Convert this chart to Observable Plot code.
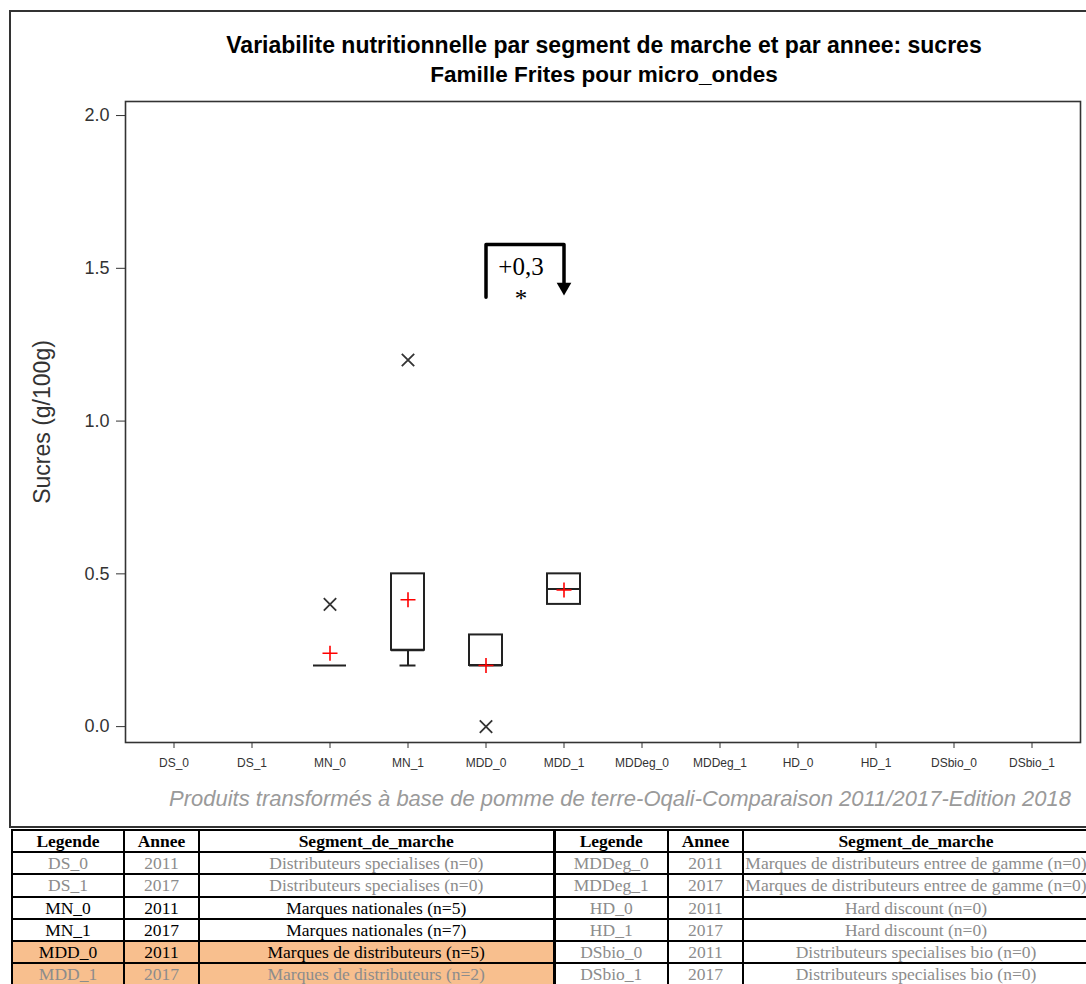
<!DOCTYPE html>
<html>
<head>
<meta charset="utf-8">
<script src="https://cdn.jsdelivr.net/npm/d3@7"></script>
<script src="https://cdn.jsdelivr.net/npm/@observablehq/plot@0.6"></script>
<style>
  html, body { margin: 0; padding: 0; background: #fff; }
  body { width: 1086px; height: 984px; overflow: hidden; position: relative; font-family: "Liberation Sans", Arial, sans-serif; }
  #frame { position: absolute; left: 9px; top: 10px; width: 1100px; height: 814px; border: 2px solid #333; box-sizing: content-box; }
  #chart { position: absolute; left: 0; top: 0; }
  .ttl { position: absolute; left: 104px; width: 1000px; text-align: center; font-weight: bold; line-height: 22.5px; color: #000; white-space: nowrap; }
  #caption { position: absolute; left: 120px; width: 1000px; text-align: center; font-style: italic; font-size: 22px; line-height: 22px; color: #9a9a9a; white-space: nowrap; }
  #tbl { position: absolute; left: 11px; top: 829px; width: 1077px; border-collapse: collapse; table-layout: fixed; font-family: "Liberation Serif", "Times New Roman", serif; font-size: 17.5px; }
  #tbl td, #tbl th { border: 2.5px solid #000; padding: 0; height: 20.2px; line-height: 20px; text-align: center; white-space: nowrap; overflow: hidden; }
  #tbl th { font-weight: bold; color: #000; }
  #tbl td.sep, #tbl th.sep { border-left-width: 3.5px; }
</style>
</head>
<body>
<div id="frame"></div>
<div id="chart"></div>
<div class="ttl" id="t1" style="top:34px;font-size:23px"></div>
<div class="ttl" id="t2" style="top:64px;font-size:22.5px"></div>
<div id="caption" style="top:788px"></div>
<table id="tbl"></table>
<script>
// ---------- data ----------
const titleLine1 = "Variabilite nutritionnelle par segment de marche et par annee: sucres";
const titleLine2 = "Famille Frites pour micro_ondes";
const captionText = "Produits transformés à base de pomme de terre-Oqali-Comparaison 2011/2017-Edition 2018";
const yLabel = "Sucres (g/100g)";

const segments = ["DS_0","DS_1","MN_0","MN_1","MDD_0","MDD_1","MDDeg_0","MDDeg_1","HD_0","HD_1","DSbio_0","DSbio_1"];
const yTicks = [0, 0.5, 1.0, 1.5, 2.0];

// box statistics (only segments with data)
const boxSeg    = ["MN_0","MN_1","MDD_0","MDD_1"];
const whiskLo   = [0.2, 0.2, 0.2, 0.4];
const q1        = [0.2, 0.25, 0.2, 0.4];
const median    = [0.2, 0.25, 0.2, 0.45];
const q3        = [0.2, 0.5, 0.3, 0.5];
const whiskHi   = [0.2, 0.5, 0.3, 0.5];
const meanVal   = [0.24, 0.415, 0.2, 0.447];

const outlierSeg = ["MN_0","MN_1","MDD_0"];
const outlierVal = [0.4, 1.2, 0.0];

// evolution annotation (MDD 2011 -> 2017)
const bracketX = ["MDD_0","MDD_0","MDD_1","MDD_1"];
const bracketY = [1.405, 1.578, 1.578, 1.44];
const arrowX = ["MDD_1"];
const arrowY = [1.439];
const annotText = ["+0,3", "*"];
const annotX = ["MDD_0", "MDD_0"];
const annotY = [1.505, 1.40];

// legend table
const years    = ["2011","2017","2011","2017","2011","2017","2011","2017","2011","2017","2011","2017"];
const segNames = ["Distributeurs specialises","Distributeurs specialises","Marques nationales","Marques nationales",
                  "Marques de distributeurs","Marques de distributeurs","Marques de distributeurs entree de gamme",
                  "Marques de distributeurs entree de gamme","Hard discount","Hard discount",
                  "Distributeurs specialises bio","Distributeurs specialises bio"];
const counts   = [0,0,5,7,5,2,0,0,0,0,0,0];
const highlighted = ["MDD_0","MDD_1"];
const headers = ["Legende","Annee","Segment_de_marche"];

// ---------- build ----------
const boxes = boxSeg.map((s, i) => ({seg: s, lo: whiskLo[i], q1: q1[i], med: median[i], q3: q3[i], hi: whiskHi[i], mean: meanVal[i]}));
const outliers = outlierSeg.map((s, i) => ({seg: s, v: outlierVal[i]}));
const bracket = bracketX.map((s, i) => ({seg: s, v: bracketY[i]}));
const arrowHead = arrowX.map((s, i) => ({seg: s, v: arrowY[i]}));
const annots = annotText.map((t, i) => ({seg: annotX[i], v: annotY[i], t}));

const plot = Plot.plot({
  width: 1086,
  height: 780,
  marginLeft: 125,
  marginRight: 6,
  marginTop: 101,
  marginBottom: 38,
  style: {background: "transparent", overflow: "visible"},
  x: {type: "band", domain: segments, paddingInner: 0.577, paddingOuter: 0.409, label: null},
  y: {domain: [-0.052, 2.046], label: null},
  marks: [
    Plot.axisY({ticks: yTicks, tickFormat: d3.format(".1f"), tickSize: 9, tickPadding: 7, fontSize: 18, fontFamily: "Liberation Sans, Arial, sans-serif", color: "#333", stroke: "#333"}),
    Plot.axisX({tickSize: 6, tickPadding: 10, fontSize: 12, fontFamily: "Liberation Sans, Arial, sans-serif", color: "#333", stroke: "#333"}),
    Plot.text([yLabel], {frameAnchor: "left", textAnchor: "middle", dx: -83, rotate: -90, fontSize: 23, fill: "#333", fontFamily: "Liberation Sans, Arial, sans-serif"}),
    Plot.frame({stroke: "#333", strokeWidth: 1.6}),
    // whiskers
    Plot.ruleX(boxes, {x: "seg", y1: "lo", y2: "q1", stroke: "#222", strokeWidth: 2}),
    Plot.ruleX(boxes, {x: "seg", y1: "q3", y2: "hi", stroke: "#222", strokeWidth: 2}),
    Plot.tickY(boxes.filter(d => d.lo < d.q1), {x: "seg", y: "lo", stroke: "#222", strokeWidth: 2, insetLeft: 8.5, insetRight: 8.5}),
    Plot.tickY(boxes.filter(d => d.hi > d.q3), {x: "seg", y: "hi", stroke: "#222", strokeWidth: 2, insetLeft: 8.5, insetRight: 8.5}),
    // boxes
    Plot.barY(boxes.filter(d => d.q3 > d.q1), {x: "seg", y1: "q1", y2: "q3", fill: "none", stroke: "#222", strokeWidth: 2}),
    Plot.tickY(boxes, {x: "seg", y: "med", stroke: "#222", strokeWidth: 2}),
    // means
    Plot.dot(boxes, {x: "seg", y: "mean", symbol: "plus", r: 4.9, stroke: "#ff0000", strokeWidth: 1.6}),
    // outliers
    Plot.dot(outliers, {x: "seg", y: "v", symbol: "times", r: 5.7, stroke: "#333", strokeWidth: 1.8}),
    // annotation
    Plot.line(bracket, {x: "seg", y: "v", stroke: "#000", strokeWidth: 3.5, strokeLinejoin: "round", curve: "linear"}),
    Plot.dot(arrowHead, {x: "seg", y: "v", symbol: "triangle", r: 5.45, rotate: 180, fill: "#000", stroke: "none"}),
    Plot.text(annots, {x: "seg", y: "v", text: "t", dx: 35, fontSize: 25, fill: "#000", fontFamily: "Liberation Serif, Times New Roman, serif"})
  ]
});
document.getElementById("chart").appendChild(plot);
document.getElementById("t1").textContent = titleLine1;
document.getElementById("t2").textContent = titleLine2;
document.getElementById("caption").textContent = captionText;

// table
const colWidths = [112, 75, 355, 114, 75, 346];
const tbl = document.getElementById("tbl");
const cg = document.createElement("colgroup");
colWidths.forEach(w => { const c = document.createElement("col"); c.style.width = w + "px"; cg.appendChild(c); });
tbl.appendChild(cg);
const hr = document.createElement("tr");
[...headers, ...headers].forEach((h, i) => {
  const th = document.createElement("th"); th.textContent = h; if (i === 3) th.className = "sep"; hr.appendChild(th);
});
tbl.appendChild(hr);
const half = 6;
for (let r = 0; r < half; r++) {
  const tr = document.createElement("tr");
  [r, r + half].forEach((idx, side) => {
    const cells = [segments[idx], years[idx], `${segNames[idx]} (n=${counts[idx]})`];
    const active = counts[idx] >= 3;
    const hl = side === 0 && highlighted.includes(segments[idx]);
    cells.forEach((txt, j) => {
      const td = document.createElement("td");
      td.textContent = txt;
      td.style.color = active ? "#000" : "#8c8c8c";
      if (hl) td.style.background = "#f8bf8e";
      if (side === 1 && j === 0) td.className = "sep";
      tr.appendChild(td);
    });
  });
  tbl.appendChild(tr);
}
</script>
</body>
</html>
